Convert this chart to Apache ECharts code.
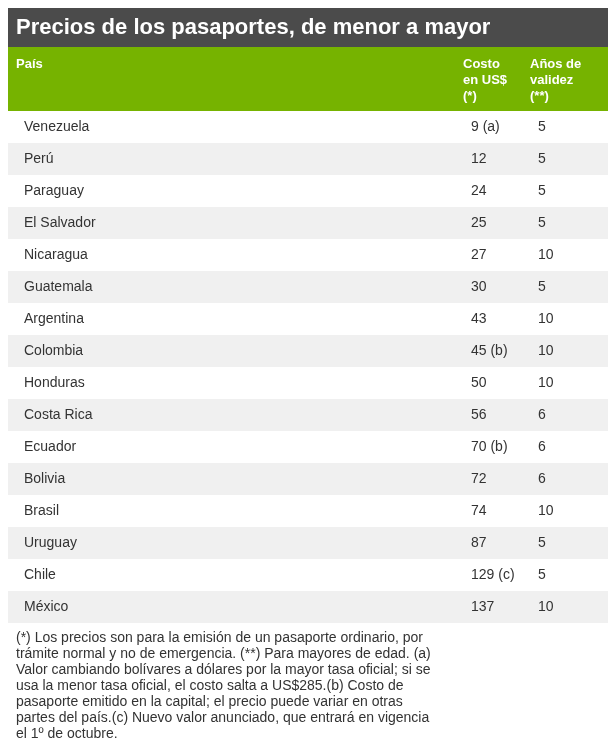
<!DOCTYPE html>
<html>
<head>
<meta charset="utf-8">
<script src="https://cdn.jsdelivr.net/npm/echarts@6/dist/echarts.min.js"></script>
<style>html,body{margin:0;padding:0;background:#fff}#main{width:616px;height:751px}</style>
</head>
<body>
<div id="main"></div>
<script>
const title = 'Precios de los pasaportes, de menor a mayor';
const headers = ['País', 'Costo\nen US$\n(*)', 'Años de\nvalidez\n(**)'];
const countries = ['Venezuela', 'Perú', 'Paraguay', 'El Salvador', 'Nicaragua', 'Guatemala', 'Argentina', 'Colombia',
  'Honduras', 'Costa Rica', 'Ecuador', 'Bolivia', 'Brasil', 'Uruguay', 'Chile', 'México'];
const costs = ['9 (a)', '12', '24', '25', '27', '30', '43', '45 (b)', '50', '56', '70 (b)', '72', '74', '87', '129 (c)', '137'];
const years = ['5', '5', '5', '5', '10', '5', '10', '10', '10', '6', '6', '6', '10', '5', '5', '10'];
const footnote = [
  '(*) Los precios son para la emisión de un pasaporte ordinario, por',
  'trámite normal y no de emergencia. (**) Para mayores de edad. (a)',
  'Valor cambiando bolívares a dólares por la mayor tasa oficial; si se',
  'usa la menor tasa oficial, el costo salta a US$285.(b) Costo de',
  'pasaporte emitido en la capital; el precio puede variar en otras',
  'partes del país.(c) Nuevo valor anunciado, que entrará en vigencia',
  'el 1º de octubre.'
];

const font = 'Liberation Sans, Arial, sans-serif';
const colX = [8, 455, 522];

const myChart = echarts.init(document.getElementById('main'));
const option = {
  animation: false,
  grid: { left: 8, width: 600, top: 111, height: 512 },
  xAxis: { type: 'value', min: 0, max: 600, show: false },
  yAxis: { type: 'category', data: countries, inverse: true, show: false },
  graphic: [
    { type: 'rect', shape: { x: 8, y: 8, width: 600, height: 39 }, style: { fill: '#4b4b4b' } },
    { type: 'text', x: 16, y: 28, style: { text: title, fill: '#fff', font: 'bold 22px ' + font, textVerticalAlign: 'middle' } },
    { type: 'rect', shape: { x: 8, y: 47, width: 600, height: 64 }, style: { fill: '#76b300' } },
    ...headers.map((h, i) => ({
      type: 'text', x: colX[i] + 8, y: 56,
      style: { text: h, fill: '#fff', font: 'bold 13px ' + font, lineHeight: 16 }
    })),
    {
      type: 'text', x: 16, y: 630,
      style: { text: footnote.join('\n'), fill: '#333', font: '14px ' + font, lineHeight: 16 }
    }
  ],
  series: [{
    type: 'custom',
    data: countries.map((c, i) => [i, c, costs[i], years[i]]),
    renderItem: function (params, api) {
      const idx = api.value(0);
      const p = api.coord([0, idx]);
      const h = api.size([0, 1])[1];
      const top = p[1] - h / 2;
      const children = [{
        type: 'rect',
        shape: { x: p[0], y: top, width: 600, height: h },
        style: { fill: idx % 2 === 1 ? '#f0f0f0' : '#fff' }
      }];
      [countries[idx], costs[idx], years[idx]].forEach((t, j) => {
        const q = api.coord([colX[j] + 8, idx]);
        children.push({
          type: 'text', x: q[0], y: q[1],
          style: { text: t, fill: '#333', font: '14px ' + font, textVerticalAlign: 'middle' }
        });
      });
      return { type: 'group', children: children };
    }
  }]
};
myChart.setOption(option);
</script>
</body>
</html>
